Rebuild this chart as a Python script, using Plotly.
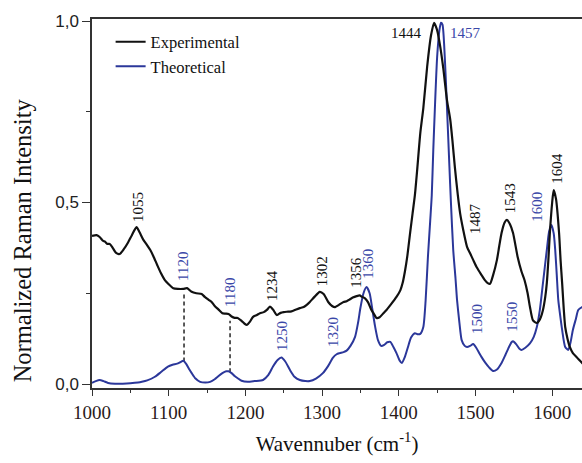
import numpy as np
import plotly.graph_objects as go

# ---------------- data ----------------
exp_x = [1000, 1006, 1010, 1014, 1017, 1020, 1023, 1027, 1031, 1036, 1041, 1047, 1052, 1058, 1062,
         1067, 1072, 1076, 1080, 1085, 1090, 1095, 1100, 1106, 1112, 1119, 1124, 1130, 1136, 1143,
         1147, 1152, 1156, 1160, 1165, 1170, 1174, 1178, 1182, 1186, 1190, 1195, 1199, 1202, 1206,
         1210, 1215, 1219, 1224, 1228, 1232, 1236, 1241, 1246, 1250, 1254, 1260, 1266, 1271, 1276,
         1280, 1284, 1290, 1297, 1302, 1308, 1313, 1317, 1322, 1328, 1332, 1336, 1340, 1345, 1349,
         1352, 1356, 1360, 1364, 1367, 1371, 1375, 1380, 1384, 1390, 1397, 1402, 1405, 1408, 1411,
         1415, 1418, 1421, 1424, 1428, 1432, 1437, 1442, 1446, 1450, 1454, 1458, 1463, 1467, 1470,
         1473, 1477, 1480, 1484, 1489, 1493, 1497, 1502, 1508, 1512, 1516, 1519, 1523, 1528, 1531,
         1534, 1538, 1541, 1545, 1549, 1555, 1560, 1564, 1568, 1571, 1575, 1580, 1584, 1588, 1591,
         1593, 1595, 1597, 1600, 1602, 1605, 1609, 1611, 1613, 1615, 1617, 1620, 1623, 1627, 1632,
         1640]
exp_y = [0.408, 0.410, 0.405, 0.395, 0.392, 0.386, 0.386, 0.375, 0.362, 0.358, 0.370, 0.390, 0.410, 0.432, 0.418,
         0.397, 0.382, 0.369, 0.352, 0.328, 0.305, 0.286, 0.275, 0.264, 0.262, 0.262, 0.264, 0.254, 0.250, 0.248,
         0.240, 0.232, 0.226, 0.215, 0.205, 0.195, 0.194, 0.193, 0.186, 0.182, 0.182, 0.174, 0.166, 0.163, 0.172,
         0.185, 0.190, 0.195, 0.198, 0.204, 0.213, 0.205, 0.190, 0.196, 0.198, 0.199, 0.200, 0.205, 0.209, 0.212,
         0.218, 0.226, 0.240, 0.254, 0.248, 0.226, 0.215, 0.212, 0.218, 0.226, 0.228, 0.233, 0.238, 0.242, 0.244,
         0.240, 0.236, 0.225, 0.205, 0.195, 0.182, 0.184, 0.195, 0.204, 0.220, 0.240, 0.258, 0.278, 0.310, 0.350,
         0.420, 0.470, 0.520, 0.590, 0.690, 0.760, 0.874, 0.960, 0.995, 0.975, 0.930, 0.870, 0.780, 0.730, 0.670,
         0.600, 0.520, 0.470, 0.425, 0.378, 0.360, 0.342, 0.320, 0.300, 0.287, 0.278, 0.276, 0.300, 0.342, 0.380,
         0.416, 0.445, 0.452, 0.440, 0.416, 0.350, 0.310, 0.286, 0.250, 0.213, 0.175, 0.168, 0.178, 0.204, 0.240,
         0.278, 0.340, 0.416, 0.500, 0.534, 0.510, 0.416, 0.340, 0.278, 0.210, 0.157, 0.125, 0.102, 0.085, 0.074,
         0.056]

theo_x = [1000, 1005, 1010, 1015, 1021, 1030, 1040, 1050, 1060, 1065, 1072, 1082, 1090, 1099, 1105,
          1111, 1115, 1119, 1123, 1127, 1130, 1135, 1141, 1148, 1154, 1160, 1164, 1170, 1175, 1178,
          1182, 1186, 1190, 1195, 1203, 1212, 1223, 1230, 1236, 1242, 1247, 1252, 1258, 1264, 1271,
          1278, 1284, 1292, 1301, 1308, 1314, 1319, 1323, 1328, 1332, 1337, 1343, 1347, 1350, 1354,
          1358, 1362, 1365, 1369, 1373, 1377, 1381, 1385, 1389, 1393, 1397, 1401, 1404, 1408, 1412,
          1416, 1421, 1425, 1428, 1432, 1435, 1438, 1441, 1443, 1445, 1447, 1450, 1453, 1455, 1457,
          1460, 1463, 1466, 1468, 1471, 1474, 1476, 1479, 1482, 1486, 1489, 1493, 1497, 1501, 1505,
          1508, 1513, 1518, 1523, 1528, 1534, 1539, 1543, 1547, 1549, 1553, 1557, 1560, 1565, 1571,
          1576, 1580, 1584, 1588, 1593, 1596, 1599, 1602, 1604, 1606, 1608, 1611, 1613, 1617, 1621,
          1624, 1627, 1631, 1634, 1640]
theo_y = [0.003, 0.008, 0.011, 0.008, 0.003, 0.001, 0.001, 0.002, 0.004, 0.006, 0.010, 0.020, 0.033, 0.048, 0.053,
          0.056, 0.060, 0.064, 0.055, 0.040, 0.030, 0.015, 0.006, 0.004, 0.006, 0.013, 0.020, 0.030, 0.035, 0.035,
          0.030, 0.022, 0.016, 0.009, 0.006, 0.008, 0.011, 0.025, 0.048, 0.066, 0.073, 0.062, 0.039, 0.020, 0.011,
          0.008, 0.008, 0.015, 0.030, 0.050, 0.072, 0.082, 0.085, 0.088, 0.092, 0.105, 0.130, 0.170, 0.210, 0.250,
          0.267, 0.250, 0.213, 0.160, 0.120, 0.105, 0.108, 0.115, 0.116, 0.102, 0.085, 0.065, 0.058, 0.075, 0.102,
          0.128, 0.140, 0.137, 0.138, 0.157, 0.230, 0.350, 0.450, 0.520, 0.645, 0.755, 0.900, 0.975, 0.995, 0.990,
          0.900, 0.755, 0.600, 0.500, 0.369, 0.290, 0.231, 0.170, 0.121, 0.105, 0.102, 0.105, 0.110, 0.100, 0.085,
          0.074, 0.058, 0.045, 0.036, 0.040, 0.058, 0.080, 0.099, 0.115, 0.118, 0.110, 0.098, 0.094, 0.100, 0.112,
          0.130, 0.157, 0.205, 0.278, 0.369, 0.420, 0.438, 0.415, 0.369, 0.300, 0.231, 0.180, 0.149, 0.102, 0.094,
          0.115, 0.149, 0.180, 0.204, 0.213]

# peak labels: text, x, y, which series, rotated
label_text = ["1055", "1120", "1180", "1234", "1250", "1302", "1356", "1360", "1320",
              "1500", "1550", "1444", "1457", "1487", "1543", "1600", "1604"]
label_x = [1060, 1118.6, 1180, 1234.7, 1247.7, 1300, 1344, 1359.8, 1314,
           1502, 1547.6, 1410.7, 1487.6, 1499.3, 1545, 1580, 1606]
label_y = [0.488, 0.325, 0.251, 0.270, 0.132, 0.311, 0.309, 0.331, 0.143,
           0.179, 0.185, 0.967, 0.967, 0.457, 0.512, 0.488, 0.595]
label_series = ["exp", "theo", "theo", "exp", "theo", "exp", "exp", "theo", "theo",
                "theo", "theo", "exp", "theo", "exp", "exp", "theo", "exp"]
label_rot = [True, True, True, True, True, True, True, True, True,
             True, True, False, False, True, True, True, True]

dashed_at = [1120, 1180]

BLACK = "#111111"
BLUE = "#2b379a"
BLUE_TXT = "#3a47a8"
SERIF = "Liberation Serif, Times New Roman, serif"
SANS = "Liberation Sans, Arial, sans-serif"

fig = go.Figure()

# dashed connector lines
for xv in dashed_at:
    yb = float(np.interp(xv, theo_x, theo_y))
    yt = float(np.interp(xv, exp_x, exp_y))
    fig.add_trace(go.Scatter(x=[xv, xv], y=[yb, yt - 0.015], mode="lines",
                             line=dict(color="#333", width=1.6, dash="4px,3px"),
                             showlegend=False, hoverinfo="skip"))

fig.add_trace(go.Scatter(x=theo_x, y=theo_y, mode="lines", name="Theoretical",
                         line=dict(color=BLUE, width=2, shape="spline", smoothing=0.6)))
fig.add_trace(go.Scatter(x=exp_x, y=exp_y, mode="lines", name="Experimental",
                         line=dict(color=BLACK, width=2.2, shape="spline", smoothing=0.6)))

for t, x, y, s, r in zip(label_text, label_x, label_y, label_series, label_rot):
    fig.add_annotation(x=x, y=y, xref="x", yref="y", text=t, showarrow=False,
                       textangle=-90 if r else 0,
                       font=dict(family=SERIF, size=15,
                                 color=BLACK if s == "exp" else BLUE_TXT))

# y-axis title (placed lower than plot centre, as in the reference)
fig.add_annotation(x=-0.143, y=0.40, xref="paper", yref="paper",
                   text="Normalized Raman Intensity", showarrow=False, textangle=-90,
                   xanchor="center", yanchor="middle",
                   font=dict(family=SERIF, size=24.5, color="#111"))

fig.update_layout(
    width=582, height=463,
    margin=dict(l=92, r=0, t=19, b=75),
    paper_bgcolor="white", plot_bgcolor="white",
    separators=",.",
    showlegend=True,
    legend=dict(x=0.038, y=0.985, xanchor="left", yanchor="top",
                traceorder="reversed",
                font=dict(family=SERIF, size=16.5, color="#111"),
                bgcolor="rgba(0,0,0,0)", itemwidth=30),
    xaxis=dict(range=[1000, 1638.9], showgrid=False, zeroline=False,
               showline=True, linecolor="#333", linewidth=1.5, mirror=True,
               ticks="outside", ticklen=6, tickwidth=1.3, tickcolor="#333",
               tickvals=[1000, 1100, 1200, 1300, 1400, 1500, 1600],
               minor=dict(dtick=50, tick0=1000, ticks="outside", ticklen=3, tickcolor="#333"),
               tickfont=dict(family=SERIF, size=19, color="#2a1a1a"),
               title=dict(text="Wavennuber (cm<sup>-1</sup>)",
                          font=dict(family=SERIF, size=21, color="#111"), standoff=15)),
    yaxis=dict(range=[-0.011, 1.0055], showgrid=False, zeroline=False,
               showline=True, linecolor="#333", linewidth=1.5, mirror=False,
               ticks="outside", ticklen=8, tickwidth=1.3, tickcolor="#333",
               tickvals=[0, 0.5, 1.0], tickformat=".1f",
               minor=dict(dtick=0.25, tick0=0, ticks="outside", ticklen=4, tickcolor="#333"),
               tickfont=dict(family=SANS, size=17, color="#222")),
)

fig.write_html("out.html")
